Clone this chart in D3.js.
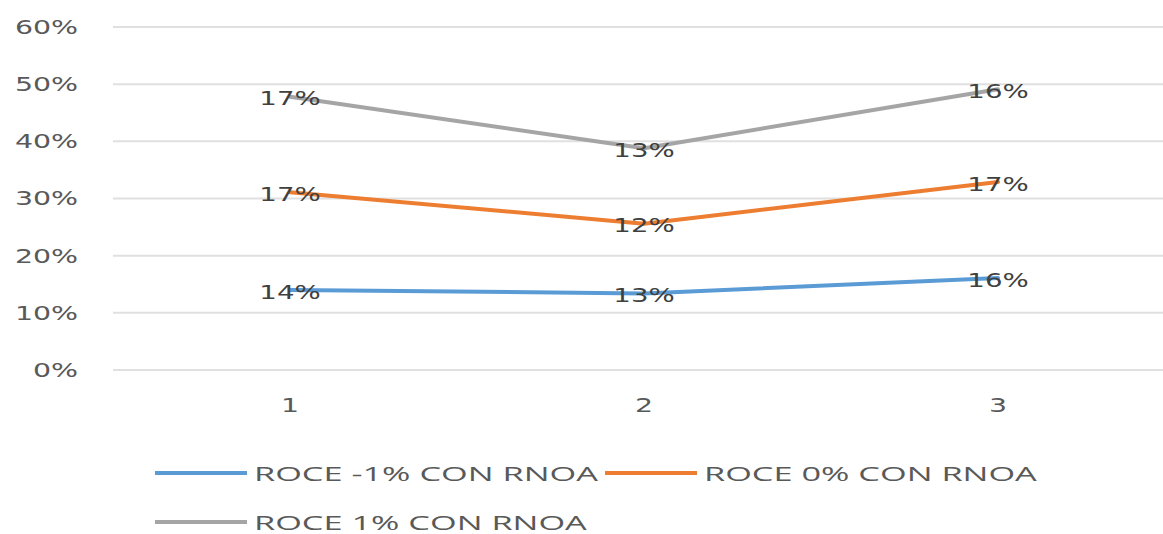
<!DOCTYPE html>
<html>
<head>
<meta charset="utf-8">
<script src="https://cdn.jsdelivr.net/npm/d3@7"></script>
<style>
  html, body { margin: 0; padding: 0; background: #fff; }
  svg { display: block; }
</style>
</head>
<body>
<svg id="chart" width="1163" height="534"></svg>
<script>
// ---- data ----
const categories = ["1", "2", "3"];
const seriesNames = ["ROCE -1% CON RNOA", "ROCE 0% CON RNOA", "ROCE 1% CON RNOA"];
const roceMinus1 = [0.140, 0.134, 0.161];
const roce0 = [0.171, 0.122, 0.168];
const roce1 = [0.167, 0.132, 0.162];
const yTicks = [0, 0.1, 0.2, 0.3, 0.4, 0.5, 0.6];
const colors = ["#5B9BD5", "#ED7D31", "#A5A5A5"];

const svg = d3.select("#chart");
const W = 1163;

const x = d3.scaleBand().domain(categories).range([113, 1175]);
const y = d3.scaleLinear().domain([0, 0.6]).range([370, 27]);
const fmt = d3.format(".0%");

// stacked (cumulative) data
const rows = categories.map((c, i) => ({ cat: c, s0: roceMinus1[i], s1: roce0[i], s2: roce1[i] }));
const stack = d3.stack().keys(["s0", "s1", "s2"]);
const stacked = stack(rows);

// gridlines
svg.append("g").selectAll("line").data(yTicks).join("line")
  .attr("x1", 113).attr("x2", W + 20)
  .attr("y1", d => y(d)).attr("y2", d => y(d))
  .attr("stroke", "#e0e0e0").attr("stroke-width", 2);

// y axis labels
const axisFont = "'DejaVu Sans', Verdana, sans-serif";
svg.append("g").selectAll("text").data(yTicks).join("text")
  .attr("transform", d => `translate(78,${y(d)}) scale(1.42,1)`)
  .attr("text-anchor", "end").attr("dominant-baseline", "central")
  .attr("font-family", axisFont).attr("font-size", 20)
  .attr("fill", "#595959")
  .text(d => fmt(d));

// x axis labels
svg.append("g").selectAll("text").data(categories).join("text")
  .attr("transform", d => `translate(${x(d) + x.bandwidth() / 2},405) scale(1.42,1)`)
  .attr("text-anchor", "middle").attr("dominant-baseline", "central")
  .attr("font-family", axisFont).attr("font-size", 20)
  .attr("fill", "#595959")
  .text(d => d);

// lines
const line = d3.line()
  .x(d => x(d.data.cat) + x.bandwidth() / 2)
  .y(d => y(d[1]));

svg.append("g").selectAll("path").data(stacked).join("path")
  .attr("d", d => line(d))
  .attr("fill", "none")
  .attr("stroke", (d, i) => colors[i])
  .attr("stroke-width", 4)
  .attr("stroke-linejoin", "round")
  .attr("stroke-linecap", "round");

// data labels
const lbl = svg.append("g");
stacked.forEach((s, si) => {
  lbl.selectAll(null).data(s).join("text")
    .attr("transform", d => `translate(${x(d.data.cat) + x.bandwidth() / 2},${y(d[1]) + 2}) scale(1.38,1)`)
    .attr("text-anchor", "middle").attr("dominant-baseline", "central")
    .attr("font-family", axisFont).attr("font-size", 20)
    .attr("fill", "#404040")
    .text(d => fmt(d[1] - d[0]));
});

// legend
const legendPos = [[155, 473], [605, 473], [155, 522]];
const leg = svg.append("g").selectAll("g").data(seriesNames).join("g")
  .attr("transform", (d, i) => `translate(${legendPos[i][0]},${legendPos[i][1]})`);
leg.append("line")
  .attr("x1", 0).attr("x2", 92).attr("y1", 0).attr("y2", 0)
  .attr("stroke", (d, i) => colors[i]).attr("stroke-width", 4);
leg.append("text")
  .attr("transform", "translate(99,0) scale(1.76,1)")
  .attr("dominant-baseline", "central")
  .attr("font-family", "'Open Sans', sans-serif").attr("font-size", 19.5)
  .attr("fill", "#595959")
  .text(d => d);
</script>
</body>
</html>
